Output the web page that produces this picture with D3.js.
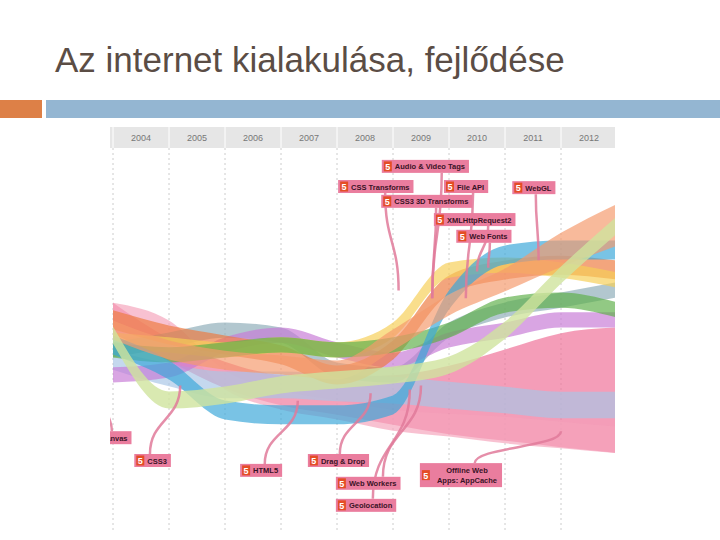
<!DOCTYPE html>
<html><head><meta charset="utf-8">
<script src="https://cdn.jsdelivr.net/npm/d3@7"></script>
<style>body{margin:0;background:#fff}</style></head>
<body><svg id="c" width="720" height="540"></svg>
<script>
const years = [2004,2005,2006,2007,2008,2009,2010,2011,2012];
const samplePts = [2003.5,2004.5,2005.5,2006.5,2007.5,2008.5,2009.5,2010.5,2011.5,2012.5];
const streamNames = ["pink","pinkLight","lightBlue","grayBlue","purple","red","yellow","olive","blue","orange","green"];
const streamColors = ["#ef6f96","#f5a3bb","#a8c6e6","#8eadb8","#c77ad6","#ee7a3f","#f6cf55","#5fb04a","#3aa6d9","#f49a6c","#cfe39e"];
// stream centre and thickness, in chart units (0 = top of plot, 100 = bottom)
const streamCenters = [
 [44.2,52.6,59.2,63.2,64.7,65.8,65.8,64.5,63.2,63.2],
 [44.7,47.4,60.5,65.8,68.4,71.1,72.4,73.7,75.0,76.3],
 [55.3,59.2,61.8,61.8,62.6,63.2,64.5,65.8,67.1,67.1],
 [52.6,50.0,47.4,48.7,57.9,59.2,47.4,42.1,39.5,36.8],
 [59.2,57.9,51.3,48.7,52.6,55.3,50.0,47.4,44.7,44.7],
 [44.7,48.7,51.3,53.9,59.2,52.6,35.5,31.6,30.3,31.6],
 [50.0,51.3,52.6,51.3,52.6,47.4,31.6,30.3,31.6,34.2],
 [52.6,53.9,52.6,51.3,52.6,51.3,47.4,40.8,39.5,42.1],
 [51.3,57.9,68.4,69.7,69.7,67.1,39.5,27.6,26.3,26.3],
 [47.4,52.6,55.3,56.6,57.9,50.0,40.8,34.2,26.3,19.7],
 [48.7,65.8,64.5,61.8,60.5,59.2,56.6,47.4,32.9,19.7]
];
const streamWidths = [
 [8,6,7,8,10,13,18,24,30,33],
 [9,5,5,5,5,5.5,6,7,7,7],
 [5,6,7,7,7,7,7,7,7,7],
 [4,4,4,4,4,4,4,4,4,4],
 [4,4,4,4,4,4,4,4,4,4],
 [5,5,5,5,5,5,5,5,5,5],
 [4,4,4,4,4,4,4,4,4,4],
 [4,4,4,4,4,4,4,4,4,4],
 [5,5,5,5,5,5,5,5,5,5],
 [5,5,5,5,5,5.5,5.5,6,9,11],
 [4.5,4.5,4.5,4.5,4.5,4.5,4.5,4.5,4.5,4.5]
];
const labelTexts = ["Audio & Video Tags","CSS Transforms","File API","WebGL","CSS3 3D Transforms","XMLHttpRequest2","Web Fonts","Canvas","CSS3","HTML5","Drag & Drop","Web Workers","Geolocation","Offline Web|Apps: AppCache"];
const labelYears = [2008.30,2007.52,2009.41,2010.63,2008.29,2009.23,2009.63,2003.05,2003.88,2005.77,2006.98,2007.48,2007.48,2008.98];
const labelLevels = [2.6,7.9,7.9,8.2,11.8,16.6,21,74,80,82.6,80,86,91.8,82.4];
const linkStarts = [2009.37,2008.36,2009.93,2011.05,2009.27,2010.2,2010.23,2003.48,2004.16,2006.21,2007.55,2008.32,2008.14,2009.96];
const labelTargets = [[2009.2,39],[2008.6,37],[2009.8,39],[2011.1,29],[2009.2,39],[2010.0,32],[2010.2,31],[2003.4,68],[2004.7,62],[2006.8,66],[2008.1,64],[2009.0,62],[2008.8,63],[2011.5,74]];

const svg = d3.select("#c");
svg.append("text").attr("x",55).attr("y",72).text("Az internet kialakulása, fejlődése")
  .attr("font-family","Liberation Sans, Arial").attr("font-size",35).attr("fill","#5b4d45");
svg.append("rect").attr("x",0).attr("y",100).attr("width",42).attr("height",18).attr("fill","#dd8047");
svg.append("rect").attr("x",46).attr("y",100).attr("width",674).attr("height",18).attr("fill","#94b6d2");

const L=110,R=615,B=530;
const x = d3.scaleLinear().domain([2003.5,2012.5]).range([113,617]);
const y = d3.scaleLinear().domain([0,100]).range([150,530]);
svg.append("defs").append("clipPath").attr("id","cp").append("rect").attr("x",L).attr("y",127).attr("width",R-L).attr("height",B-127);
const g = svg.append("g").attr("clip-path","url(#cp)");
g.append("rect").attr("x",L).attr("y",127).attr("width",R-L).attr("height",21).attr("fill","#e6e6e6");
years.forEach(yr=>{
  g.append("text").attr("x",x(yr)).attr("y",141).attr("text-anchor","middle").text(yr)
   .attr("font-family","Liberation Sans, Arial").attr("font-size",9).attr("fill","#777");
});
d3.range(2003.5,2013,1).forEach(b=>{
  g.append("line").attr("x1",x(b)).attr("x2",x(b)).attr("y1",127).attr("y2",148).attr("stroke","#fff");
  g.append("line").attr("x1",x(b)).attr("x2",x(b)).attr("y1",148).attr("y2",B).attr("stroke","#ccc").attr("stroke-dasharray","2,3");
});
const area = d3.area().curve(d3.curveMonotoneX).x(d=>x(d.t)).y0(d=>y(d.c-d.w/2)).y1(d=>y(d.c+d.w/2));
streamNames.forEach((n,i)=>{
  const pts = samplePts.map((t,j)=>({t,c:streamCenters[i][j],w:streamWidths[i][j]}));
  g.append("path").attr("d",area(pts)).attr("fill",streamColors[i]).attr("opacity",i==10?0.8:0.68);
});
const link = d3.linkVertical();
const boxes = labelTexts.map((t,i)=>{
  const lines=t.split("|");
  const h = lines.length>1?24:13;
  return {lines,h,bx:x(labelYears[i]),by:y(labelLevels[i])};
});
boxes.forEach((b,i)=>{
  const tgt=labelTargets[i];
  const top = b.by < y(50);
  const sx = x(linkStarts[i]), sy = top? b.by+b.h : b.by;
  g.append("path").attr("d",link({source:[sx,sy],target:[x(tgt[0]),y(tgt[1])]}))
   .attr("fill","none").attr("stroke","#e07a9a").attr("stroke-width",2.5).attr("opacity",0.85);
});
boxes.forEach((b,i)=>{
  const lg=g.append("g").attr("transform",`translate(${b.bx},${b.by})`);
  const rect=lg.append("rect").attr("height",b.h).attr("fill","#ea7d9e");
  lg.append("rect").attr("x",2).attr("y",b.h/2-5).attr("width",8).attr("height",10).attr("fill","#e44d26");
  lg.append("text").attr("x",6).attr("y",b.h/2+3.5).attr("text-anchor","middle").text("5").attr("fill","#fff")
    .attr("font-family","Liberation Sans, Arial").attr("font-weight","bold").attr("font-size",9);
  let maxW=0;
  const multi=b.lines.length>1;
  const ts=b.lines.map((s,j)=>{
    const t=lg.append("text").attr("y",multi?10+j*10:9.5).text(s)
      .attr("font-family","Liberation Sans, Arial").attr("font-weight","bold").attr("font-size",7.5).attr("fill","#3a1326");
    maxW=Math.max(maxW,t.node().getComputedTextLength());
    return t;
  });
  const w = maxW+(multi?22:17);
  rect.attr("width",w);
  ts.forEach(t=>{ if(multi) t.attr("x",(w+12)/2).attr("text-anchor","middle"); else t.attr("x",13); });
});
</script></body></html>
